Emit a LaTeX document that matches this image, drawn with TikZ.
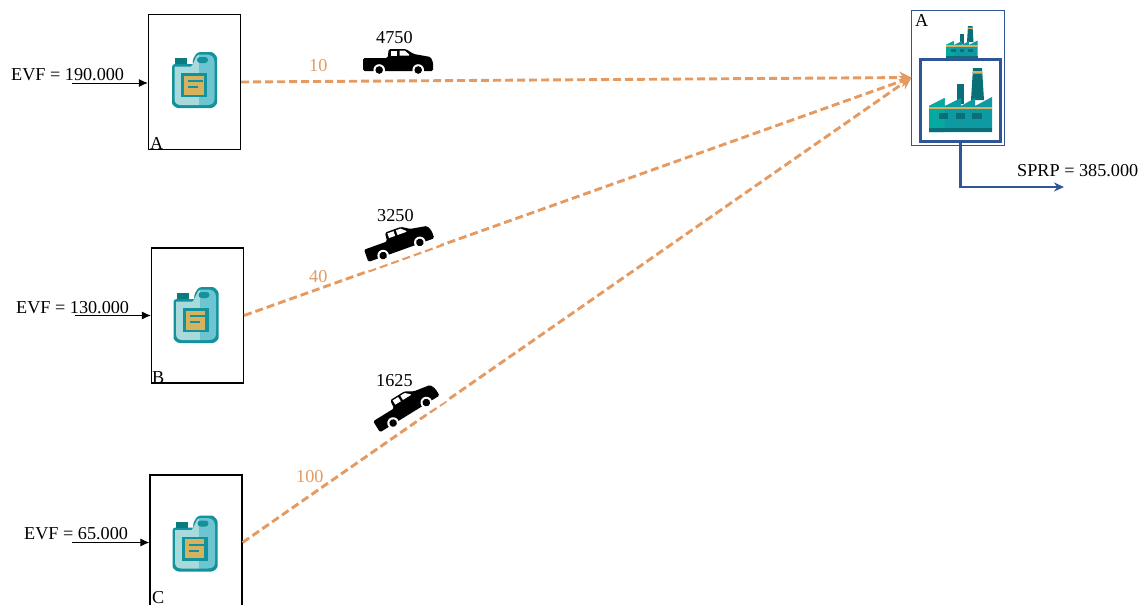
\documentclass[tikz,border=0pt]{standalone}
\usepackage{fontspec}
\setmainfont{Liberation Serif}
\usetikzlibrary{arrows.meta}
\definecolor{flow}{HTML}{E59A62}
\definecolor{plantblue}{HTML}{2F5597}
\definecolor{jugdark}{HTML}{12929C}
\definecolor{juglight}{HTML}{A8D9DB}
\definecolor{jugmid}{HTML}{6CC5D0}
\definecolor{capgreen}{HTML}{0A7C80}
\definecolor{tan}{HTML}{D6B25E}
\definecolor{facmain}{HTML}{0F9AA3}
\definecolor{facleft}{HTML}{06A99F}
\definecolor{facdark}{HTML}{0B6F78}
\tikzset{
  x=1pt,y=-1pt,
  txt/.style={font=\fontsize{18.2}{20}\selectfont,inner sep=0pt,anchor=base west},
  flowtxt/.style={txt,text=flow},
  cell/.style={draw=black,line width=1.2pt,minimum width=92pt,minimum height=135pt,inner sep=0pt},
  flowline/.style={draw=flow,line width=2.9pt,dashed,dash pattern=on 8pt off 4pt,-{Stealth[length=12pt,width=12pt]}},
  feed/.style={draw=black,line width=0.9pt,-{Latex[length=9pt,width=8pt]}},
  jug/.pic={
    \fill[jugdark,rounded corners=3pt] (-23,-16)--(-5,-16)
      .. controls (-3,-16) and (-2,-28) .. (9,-28)--(13,-28)
      .. controls (18,-28) and (22,-24) .. (22,-19)--(22,20)
      .. controls (22,25) and (18,28) .. (13,28)--(-14,28)
      .. controls (-19,28) and (-23,25) .. (-23,20)--cycle;
    \fill[juglight] (-20.5,-13.5)--(-4,-13.5) .. controls (-1,-15) and (0,-25) .. (4,-25.5)--(4,25)--(-14,25)
      .. controls (-18,25) and (-20.5,23) .. (-20.5,19)--cycle;
    \fill[jugmid] (4,-25.5)--(12,-25.5) .. controls (17,-25.5) and (19.5,-22) .. (19.5,-18)--(19.5,19)
      .. controls (19.5,23) and (17,25) .. (12,25)--(4,25)--cycle;
    \fill[capgreen] (-20,-22) rectangle (-8,-16);
    \fill[jugdark,rounded corners=3pt] (2,-23) rectangle (13,-17);
    \fill[jugdark] (-14,-7) rectangle (12,17);
    \fill[tan] (-11,-4.5) rectangle (8.5,14.5);
    \fill[jugdark] (-7,0) rectangle (8,2.2);
    \fill[jugdark] (-7,6) rectangle (3,8.2);
  },
  factory/.pic={
    \fill[facdark] (42,32)--(44,0)--(53,0)--(55,32)--cycle;
    \fill[tan] (43.8,3)--(53.2,3)--(53.4,5.5)--(43.6,5.5)--cycle;
    \fill[facdark] (28,16) rectangle (35,36);
    \fill[facmain] (0,38)--(15.7,30)--(15.7,38)--(32,30)--(32,38)--(46,30)--(46,38)--(63,29)--(63,64)--(0,64)--cycle;
    \fill[facleft] (0,38)--(15.7,30)--(15.7,64)--(0,64)--cycle;
    \fill[tan] (0,38.5) rectangle (63,41);
    \fill[facdark] (0,60) rectangle (63,64);
    \fill[facdark] (10,45) rectangle (19,51);
    \fill[facdark] (27,45) rectangle (36,51);
    \fill[facdark] (43,45) rectangle (53,51);
  },
  truck/.pic={
    \fill[black,rounded corners=1.5pt] (-35.5,-12)--(-11,-12)--(-10,-21)--(7,-21)--(15,-16)--(32,-13)--(34.5,-7)--(34.5,1)--(-35.5,1)--cycle;
    \fill[white] (-8,-19.5) rectangle (-1.5,-14.5);
    \fill[white] (1,-19.5)--(6,-19.5)--(10.5,-15.5)--(10.5,-14.5)--(1,-14.5)--cycle;
    \foreach \wx in {-19.5,19.5}{
      \fill[white] (\wx,0) circle (5.8pt);
      \fill[black] (\wx,0) circle (3.8pt);
    }
  },
  haze/.style={fill=white}
}
\begin{document}
\begin{tikzpicture}
\clip (0,0) rectangle (1141,605);
\fill[white] (0,0) rectangle (1141,605);
% source boxes
\node[cell] (a) at (194.5,82) {};
\node[cell] (b) at (197.5,315.5) {};
\node[cell] (c) at (196,542.5) {};
% plant
\node[draw=plantblue,line width=1pt,minimum width=92.5pt,minimum height=135pt,inner sep=0pt] (plant) at (958.2,77.5) {};
\node[draw=plantblue,line width=3pt,minimum width=80.5pt,minimum height=82pt,inner sep=0pt] (unit) at (960.3,100) {};
% flows
\draw[flowline] (a.east) -- (plant.west);
\draw[flowline] (b.east) -- (plant.west);
\draw[flowline] (c.east) -- (plant.west);
% feeds
\coordinate (fa) at (72,83);
\coordinate (fb) at (75,315.5);
\coordinate (fc) at (72,542.5);
\coordinate (out) at (1064,187);
\draw[feed] (fa) -- (fa -| a.west);
\draw[feed] (fb) -- (b.west);
\draw[feed] (fc) -- (c.west);
\draw[draw=plantblue,line width=2.8pt,-{Stealth[length=10pt,width=9pt]}] (unit.south) |- (out);
% icons
\pic at (195,80) {jug};
\pic at (196.5,315) {jug};
\pic at (195.5,543.5) {jug};
\pic at (929,68) {factory};
\pic[scale=0.5] at (946,26) {factory};
\pic at (398.7,70) {truck};
\begin{scope}[shift={(401.5,249)},rotate=19.8]
  \fill[haze] (-38,-24) rectangle (38,9);
\end{scope}
\pic[rotate=19.8] at (401.5,249) {truck};
\begin{scope}[shift={(409.7,412.8)},rotate=31.7]
  \fill[haze] (-38,-24) rectangle (38,9);
\end{scope}
\pic[rotate=31.7] at (409.7,412.8) {truck};
% text
\node[txt] (ta) at (11,80) {EVF = 190.000};
\node[txt] (tb) at (16,313) {EVF = 130.000};
\node[txt] (tc) at (24,539) {EVF = 65.000};
\node[txt] (la) at (150,149.5) {A};
\node[txt] (lb) at (152,383) {B};
\node[txt] (lc) at (152,603) {C};
\node[txt] (lp) at (915,27) {A};
\node[txt] (sprp) at (1017,176) {SPRP = 385.000};
\node[txt] (n1) at (376,43) {4750};
\node[txt] (n2) at (377,221) {3250};
\node[txt] (n3) at (376,386) {1625};
\node[flowtxt] (d1) at (309,71) {10};
\node[flowtxt] (d2) at (309,282) {40};
\node[flowtxt] (d3) at (296,482) {100};
\end{tikzpicture}
\end{document}
